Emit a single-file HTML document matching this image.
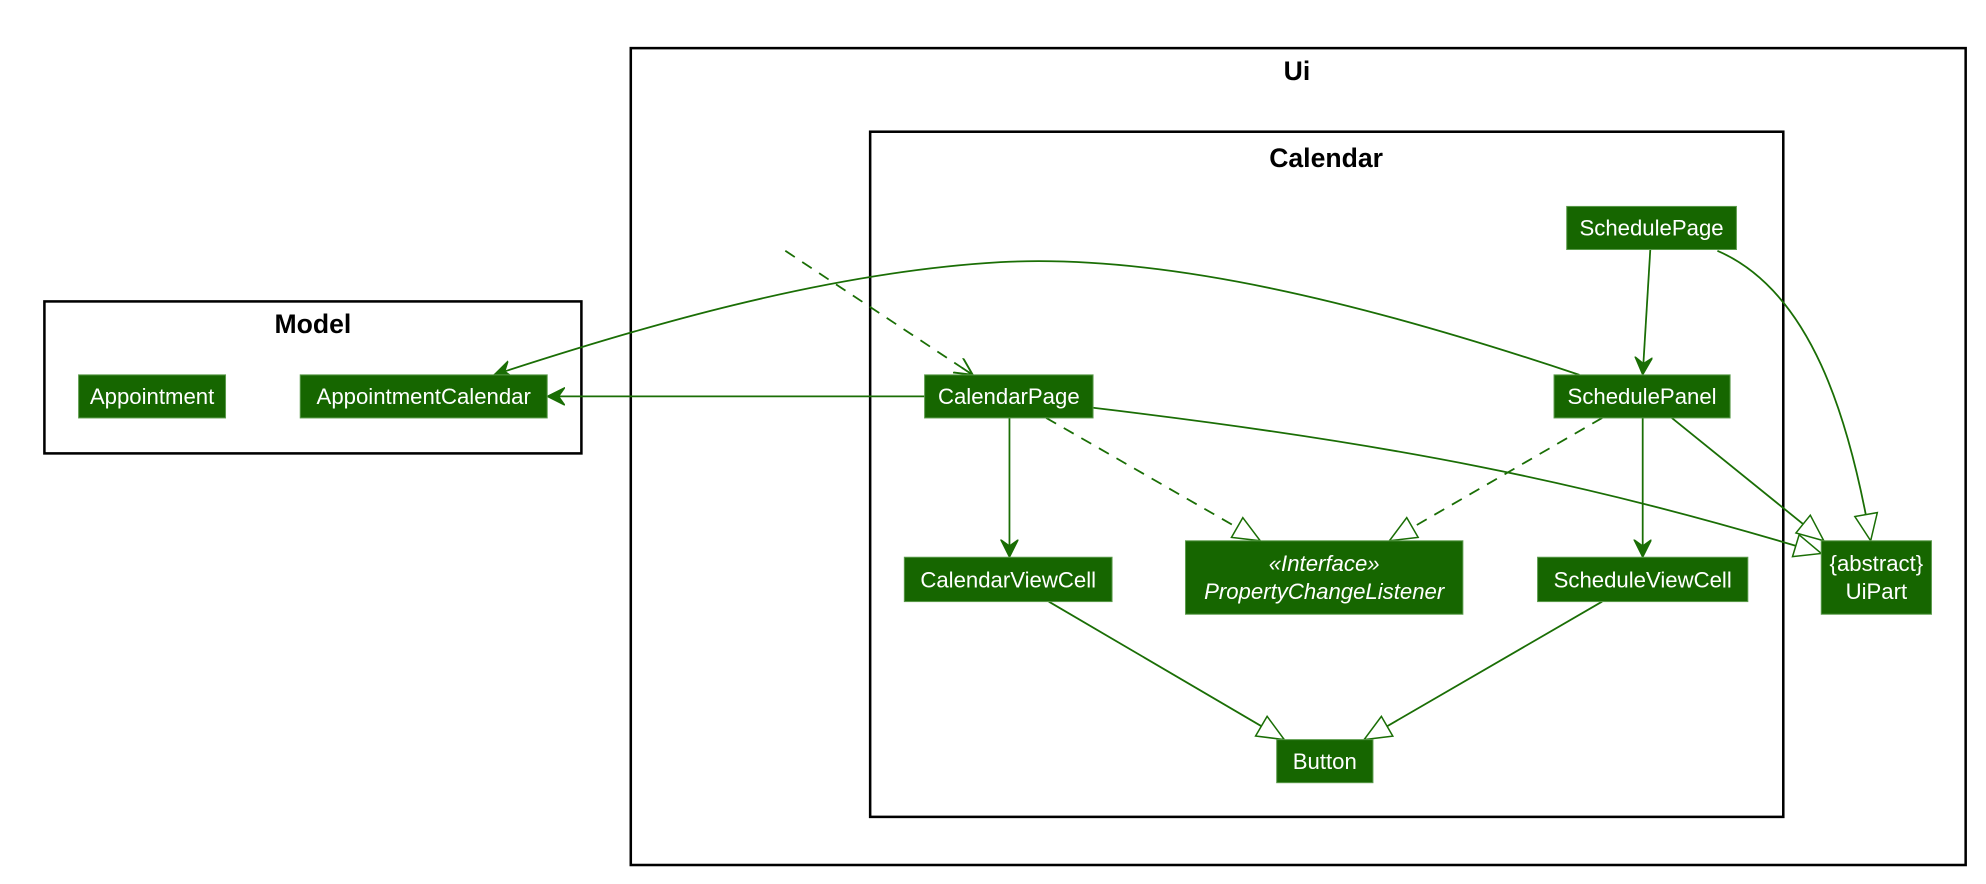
<!DOCTYPE html>
<html><head><meta charset="utf-8"><style>
html,body{margin:0;padding:0;background:#fff;width:1986px;height:884px;overflow:hidden}
text{font-family:"Liberation Sans",sans-serif}
.n{fill:#166600;stroke:#5a9a4a;stroke-width:0.8}
.t{fill:#fff;font-size:17.5px;text-anchor:middle}
.e{stroke:#1a6e05;stroke-width:1.4;fill:none}
.d{stroke-dasharray:9,7}
.f{fill:none;stroke:#000;stroke-width:2}
.h{font-size:21px;font-weight:bold;text-anchor:middle;fill:#000}
</style></head><body>
<svg width="1986" height="884" viewBox="0 0 1568 698" xmlns="http://www.w3.org/2000/svg">
<defs>
<marker id="a" markerWidth="20" markerHeight="20" refX="14" refY="7" orient="auto" markerUnits="userSpaceOnUse">
<path d="M0,0 L14,7 L0,14 M14,7 L4,7" fill="none" stroke="#1a6e05" stroke-width="1.5"/></marker>
<marker id="af" markerWidth="20" markerHeight="20" refX="14" refY="7" orient="auto" markerUnits="userSpaceOnUse">
<path d="M0,0 L14,7 L0,14 L5,7 Z" fill="#1a6e05" stroke="#1a6e05" stroke-width="1"/></marker>
<marker id="tr" markerWidth="30" markerHeight="30" refX="22" refY="10" orient="auto" markerUnits="userSpaceOnUse">
<path d="M1,1 L22,10 L1,19 Z" fill="#fff" stroke="#1a6e05" stroke-width="1.2"/></marker>
</defs>
<rect class="f" x="498" y="38" width="1054" height="645"/>
<text class="h" x="1024" y="63">Ui</text>
<rect class="f" x="687" y="104" width="721" height="541"/>
<text class="h" x="1047" y="132">Calendar</text>
<rect class="f" x="35" y="238" width="424" height="120"/>
<text class="h" x="247" y="263">Model</text>

<path class="e" d="M1247,296 C1080,240 920,200 790,207 C650,215 500,260 390,296" marker-end="url(#af)"/>
<path class="e d" d="M620,198 L768,296" marker-end="url(#a)"/>
<path class="e" d="M730,313 L432,313" marker-end="url(#af)"/>
<path class="e" d="M1303,197 L1297,296" marker-end="url(#af)"/>
<path class="e" d="M1356,198 C1430,230 1460,330 1477,427" marker-end="url(#tr)"/>
<path class="e" d="M1320,330 L1440,427" marker-end="url(#tr)"/>
<path class="e" d="M863,322 C1100,350 1250,380 1438,437" marker-end="url(#tr)"/>
<path class="e" d="M797,330 L797,440" marker-end="url(#af)"/>
<path class="e d" d="M826,330 L995,427" marker-end="url(#tr)"/>
<path class="e d" d="M1265,330 L1097,427" marker-end="url(#tr)"/>
<path class="e" d="M1297,330 L1297,440" marker-end="url(#af)"/>
<path class="e" d="M828,475 L1014,584" marker-end="url(#tr)"/>
<path class="e" d="M1265,475 L1077,584" marker-end="url(#tr)"/>

<rect class="n" x="62" y="296" width="116" height="34"/><text class="t" x="120" y="319">Appointment</text>
<rect class="n" x="237" y="296" width="195" height="34"/><text class="t" x="334.5" y="319">AppointmentCalendar</text>
<rect class="n" x="730" y="296" width="133" height="34"/><text class="t" x="796.5" y="319">CalendarPage</text>
<rect class="n" x="1237" y="163" width="134" height="34"/><text class="t" x="1304" y="186">SchedulePage</text>
<rect class="n" x="1227" y="296" width="139" height="34"/><text class="t" x="1296.5" y="319">SchedulePanel</text>
<rect class="n" x="714" y="440" width="164" height="35"/><text class="t" x="796" y="464">CalendarViewCell</text>
<rect class="n" x="936" y="427" width="219" height="58"/>
<text class="t" x="1045.5" y="451" font-style="italic">«Interface»</text>
<text class="t" x="1045.5" y="473" font-style="italic">PropertyChangeListener</text>
<rect class="n" x="1214" y="440" width="166" height="35"/><text class="t" x="1297" y="464">ScheduleViewCell</text>
<rect class="n" x="1438" y="427" width="87" height="58"/>
<text class="t" x="1481.5" y="451">{abstract}</text>
<text class="t" x="1481.5" y="473">UiPart</text>
<rect class="n" x="1008" y="584" width="76" height="34"/><text class="t" x="1046" y="607">Button</text>
</svg>
</body></html>
